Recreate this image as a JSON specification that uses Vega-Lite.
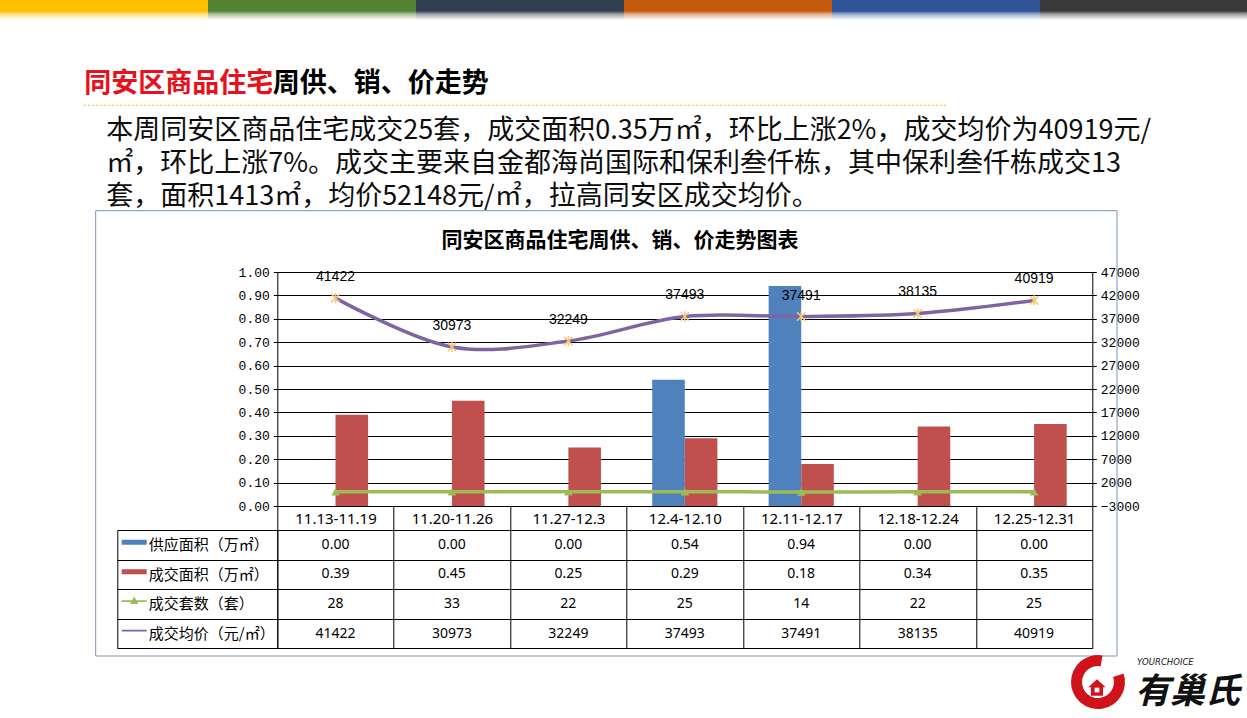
{
  "$schema": "https://vega.github.io/schema/vega-lite/v6.json",
  "width": 815,
  "height": 234,
  "autosize": {"type": "none"},
  "padding": {"left": 277.3, "top": 272, "right": 154.7, "bottom": 212},
  "background": "#ffffff",
  "config": {"view": {"stroke": null}, "font": "Noto Sans CJK SC"},
  "data": {
    "values": [
      {"week": "11.13-11.19", "series": "供应面积（万㎡）", "value": 0},
      {"week": "11.20-11.26", "series": "供应面积（万㎡）", "value": 0},
      {"week": "11.27-12.3", "series": "供应面积（万㎡）", "value": 0},
      {"week": "12.4-12.10", "series": "供应面积（万㎡）", "value": 0.54},
      {"week": "12.11-12.17", "series": "供应面积（万㎡）", "value": 0.94},
      {"week": "12.18-12.24", "series": "供应面积（万㎡）", "value": 0},
      {"week": "12.25-12.31", "series": "供应面积（万㎡）", "value": 0},
      {"week": "11.13-11.19", "series": "成交面积（万㎡）", "value": 0.39},
      {"week": "11.20-11.26", "series": "成交面积（万㎡）", "value": 0.45},
      {"week": "11.27-12.3", "series": "成交面积（万㎡）", "value": 0.25},
      {"week": "12.4-12.10", "series": "成交面积（万㎡）", "value": 0.29},
      {"week": "12.11-12.17", "series": "成交面积（万㎡）", "value": 0.18},
      {"week": "12.18-12.24", "series": "成交面积（万㎡）", "value": 0.34},
      {"week": "12.25-12.31", "series": "成交面积（万㎡）", "value": 0.35},
      {"week": "11.13-11.19", "series": "成交套数（套）", "value": 28},
      {"week": "11.20-11.26", "series": "成交套数（套）", "value": 33},
      {"week": "11.27-12.3", "series": "成交套数（套）", "value": 22},
      {"week": "12.4-12.10", "series": "成交套数（套）", "value": 25},
      {"week": "12.11-12.17", "series": "成交套数（套）", "value": 14},
      {"week": "12.18-12.24", "series": "成交套数（套）", "value": 22},
      {"week": "12.25-12.31", "series": "成交套数（套）", "value": 25},
      {"week": "11.13-11.19", "series": "成交均价（元/㎡）", "value": 41422},
      {"week": "11.20-11.26", "series": "成交均价（元/㎡）", "value": 30973},
      {"week": "11.27-12.3", "series": "成交均价（元/㎡）", "value": 32249},
      {"week": "12.4-12.10", "series": "成交均价（元/㎡）", "value": 37493},
      {"week": "12.11-12.17", "series": "成交均价（元/㎡）", "value": 37491},
      {"week": "12.18-12.24", "series": "成交均价（元/㎡）", "value": 38135},
      {"week": "12.25-12.31", "series": "成交均价（元/㎡）", "value": 40919}
    ]
  },
  "layer": [
    {
      "layer": [
        {"data": {"values": [{}]}, "mark": {"type": "rect", "color": {"gradient": "linear", "x1": 0, "y1": 0, "x2": 0, "y2": 1, "stops": [{"offset": 0, "color": "#ffc000"}, {"offset": 0.55, "color": "#ffc000"}, {"offset": 0.7, "color": "#ffe080"}, {"offset": 1, "color": "#ffffff"}]}},
         "encoding": {"x": {"datum": -2.38172, "type": "quantitative", "scale": {"domain": [0, 7], "nice": false}, "axis": null}, "x2": {"datum": -0.59521}, "y": {"datum": 2.16239, "type": "quantitative", "scale": {"domain": [0, 1], "nice": false}, "axis": null}, "y2": {"datum": 2.07692}}},
        {"data": {"values": [{}]}, "mark": {"type": "rect", "color": {"gradient": "linear", "x1": 0, "y1": 0, "x2": 0, "y2": 1, "stops": [{"offset": 0, "color": "#548235"}, {"offset": 0.55, "color": "#548235"}, {"offset": 0.7, "color": "#aac19a"}, {"offset": 1, "color": "#ffffff"}]}},
         "encoding": {"x": {"datum": -0.59521, "type": "quantitative"}, "x2": {"datum": 1.19129}, "y": {"datum": 2.16239, "type": "quantitative"}, "y2": {"datum": 2.07692}}},
        {"data": {"values": [{}]}, "mark": {"type": "rect", "color": {"gradient": "linear", "x1": 0, "y1": 0, "x2": 0, "y2": 1, "stops": [{"offset": 0, "color": "#333f50"}, {"offset": 0.55, "color": "#333f50"}, {"offset": 0.7, "color": "#999fa8"}, {"offset": 1, "color": "#ffffff"}]}},
         "encoding": {"x": {"datum": 1.19129, "type": "quantitative"}, "x2": {"datum": 2.97779}, "y": {"datum": 2.16239, "type": "quantitative"}, "y2": {"datum": 2.07692}}},
        {"data": {"values": [{}]}, "mark": {"type": "rect", "color": {"gradient": "linear", "x1": 0, "y1": 0, "x2": 0, "y2": 1, "stops": [{"offset": 0, "color": "#c55a11"}, {"offset": 0.55, "color": "#c55a11"}, {"offset": 0.7, "color": "#e2ad88"}, {"offset": 1, "color": "#ffffff"}]}},
         "encoding": {"x": {"datum": 2.97779, "type": "quantitative"}, "x2": {"datum": 4.76429}, "y": {"datum": 2.16239, "type": "quantitative"}, "y2": {"datum": 2.07692}}},
        {"data": {"values": [{}]}, "mark": {"type": "rect", "color": {"gradient": "linear", "x1": 0, "y1": 0, "x2": 0, "y2": 1, "stops": [{"offset": 0, "color": "#2f5597"}, {"offset": 0.55, "color": "#2f5597"}, {"offset": 0.7, "color": "#97aacb"}, {"offset": 1, "color": "#ffffff"}]}},
         "encoding": {"x": {"datum": 4.76429, "type": "quantitative"}, "x2": {"datum": 6.5508}, "y": {"datum": 2.16239, "type": "quantitative"}, "y2": {"datum": 2.07692}}},
        {"data": {"values": [{}]}, "mark": {"type": "rect", "color": {"gradient": "linear", "x1": 0, "y1": 0, "x2": 0, "y2": 1, "stops": [{"offset": 0, "color": "#3a3a3a"}, {"offset": 0.55, "color": "#3a3a3a"}, {"offset": 0.7, "color": "#9d9d9d"}, {"offset": 1, "color": "#ffffff"}]}},
         "encoding": {"x": {"datum": 6.5508, "type": "quantitative"}, "x2": {"datum": 8.32871}, "y": {"datum": 2.16239, "type": "quantitative"}, "y2": {"datum": 2.07692}}},
        {"data": {"values": [{}]}, "mark": {"type": "text", "text": "同安区商品住宅", "align": "left", "baseline": "middle", "fontSize": 27, "fontWeight": "bold", "color": "#e8101a"},
         "encoding": {"x": {"datum": -1.65767, "type": "quantitative"}, "y": {"datum": 1.80342, "type": "quantitative"}}},
        {"data": {"values": [{}]}, "mark": {"type": "text", "text": "周供、销、价走势", "align": "left", "baseline": "middle", "fontSize": 27, "fontWeight": "bold", "color": "#000000"},
         "encoding": {"x": {"datum": -0.03865, "type": "quantitative"}, "y": {"datum": 1.80342, "type": "quantitative"}}},
        {"data": {"values": [{}]}, "mark": {"type": "rule", "color": "#f0c419", "strokeWidth": 1, "strokeDash": [2, 2]},
         "encoding": {"x": {"datum": -1.66025, "type": "quantitative"}, "x2": {"datum": 5.74356}, "y": {"datum": 1.71239, "type": "quantitative"}}},
        {"data": {"values": [{}]}, "mark": {"type": "text", "text": ["本周同安区商品住宅成交25套，成交面积0.35万㎡，环比上涨2%，成交均价为40919元/", "㎡，环比上涨7%。成交主要来自金都海尚国际和保利叁仟栋，其中保利叁仟栋成交13", "套，面积1413㎡，均价52148元/㎡，拉高同安区成交均价。"], "align": "left", "baseline": "top", "fontSize": 27, "lineHeight": 33, "color": "#0d0d0d"},
         "encoding": {"x": {"datum": -1.46957, "type": "quantitative"}, "y": {"datum": 1.65726, "type": "quantitative"}}},
        {"data": {"values": [{}]}, "mark": {"type": "rect", "fill": "transparent", "stroke": "#7d94b0", "strokeWidth": 1},
         "encoding": {"x": {"datum": -1.55975, "type": "quantitative"}, "x2": {"datum": 7.21215}, "y": {"datum": 1.26197, "type": "quantitative"}, "y2": {"datum": -0.64103}}},
        {"data": {"values": [{}]}, "mark": {"type": "text", "text": "同安区商品住宅周供、销、价走势图表", "align": "center", "baseline": "middle", "fontSize": 21, "fontWeight": "bold", "color": "#000000"},
         "encoding": {"x": {"datum": 2.94344, "type": "quantitative"}, "y": {"datum": 1.13248, "type": "quantitative"}}},
        {"data": {"values": [{}]}, "mark": {"type": "arc", "radius": 27, "radius2": 16, "theta": 1.25, "theta2": 6.45, "color": "#d0121b"},
         "encoding": {"x": {"datum": 7.04895, "type": "quantitative"}, "y": {"datum": -0.75214, "type": "quantitative"}}},
        {"data": {"values": [{}]}, "mark": {"type": "point", "shape": "M0,-1L1,-0.1H0.7V0.9H-0.7V-0.1H-1Z", "size": 300, "filled": true, "color": "#d0121b", "opacity": 1},
         "encoding": {"x": {"datum": 7.04036, "type": "quantitative"}, "y": {"datum": -0.77778, "type": "quantitative"}}},
        {"data": {"values": [{}]}, "mark": {"type": "point", "shape": "square", "size": 22, "filled": true, "color": "#ffffff", "opacity": 1},
         "encoding": {"x": {"datum": 7.04036, "type": "quantitative"}, "y": {"datum": -0.78632, "type": "quantitative"}}},
        {"data": {"values": [{}]}, "mark": {"type": "text", "text": "有巢氏", "align": "left", "baseline": "middle", "fontSize": 35, "fontWeight": "bold", "fontStyle": "italic", "color": "#111111"},
         "encoding": {"x": {"datum": 7.36687, "type": "quantitative"}, "y": {"datum": -0.79487, "type": "quantitative"}}},
        {"data": {"values": [{}]}, "mark": {"type": "text", "text": "YOURCHOICE", "align": "left", "baseline": "middle", "fontSize": 8.5, "fontStyle": "italic", "font": "DejaVu Sans", "color": "#111111"},
         "encoding": {"x": {"datum": 7.38405, "type": "quantitative"}, "y": {"datum": -0.66667, "type": "quantitative"}}}
      ]
    },
    {
      "transform": [{"filter": {"field": "series", "oneOf": ["供应面积（万㎡）", "成交面积（万㎡）"]}}],
      "mark": {"type": "bar"},
      "encoding": {
        "x": {"field": "week", "type": "nominal", "sort": null,
              "scale": {"type": "band", "domain": ["11.13-11.19", "11.20-11.26", "11.27-12.3", "12.4-12.10", "12.11-12.17", "12.18-12.24", "12.25-12.31"], "paddingInner": 0, "paddingOuter": 0},
              "axis": {"orient": "bottom", "title": null, "domain": true, "domainColor": "#000000", "ticks": true, "tickColor": "#000000", "tickSize": 24, "tickBand": "extent", "grid": false, "labelAngle": 0, "labelPadding": -19, "labelBaseline": "top", "labelFont": "Noto Sans", "labelFontSize": 15, "labelColor": "#000000", "labelOverlap": false, "labelLimit": 0}},
        "xOffset": {"field": "series", "type": "nominal", "scale": {"domain": ["供应面积（万㎡）", "成交面积（万㎡）"], "paddingInner": 0, "paddingOuter": 0.786}},
        "y": {"field": "value", "type": "quantitative", "scale": {"domain": [0, 1], "nice": false},
              "axis": {"orient": "left", "title": null, "values": [0, 0.1, 0.2, 0.3, 0.4, 0.5, 0.6, 0.7, 0.8, 0.9, 1], "format": ".2f", "domain": true, "domainColor": "#000000", "ticks": true, "tickColor": "#000000", "tickSize": 4, "labelPadding": 4, "labelFont": "Liberation Mono", "labelFontSize": 13, "labelColor": "#000000", "grid": true, "gridColor": "#000000", "gridOpacity": 1, "gridWidth": 1}},
        "color": {"field": "series", "type": "nominal",
                  "scale": {"domain": ["供应面积（万㎡）", "成交面积（万㎡）", "成交套数（套）", "成交均价（元/㎡）"], "range": ["#4f81bd", "#c0504d", "#9bbb59", "#8064a2"]},
                  "legend": {"orient": "none", "legendX": -155.6, "legendY": 257.7, "title": null, "padding": 0, "rowPadding": 4.5, "symbolSize": 625, "symbolStrokeWidth": 0, "labelFontSize": 1, "labelExpr": "''", "labelOffset": 0,
                    "encode": {"symbols": {"update": {
                      "shape": {"signal": "datum.value === '成交套数（套）' ? 'M-1,-0.07H1V0.07H-1Z M0,-0.38L0.34,0.22H-0.34Z M1,-1h0.001v0.001Z M1,1h0.001v-0.001Z' : datum.value === '成交均价（元/㎡）' ? 'M-1,-0.07H1V0.07H-1Z M1,-1h0.001v0.001Z M1,1h0.001v-0.001Z' : 'M-1,-0.2H1V0.2H-1Z M1,-1h0.001v0.001Z M1,1h0.001v-0.001Z'"},
                      "fill": {"signal": "datum.value === '供应面积（万㎡）' ? '#4f81bd' : datum.value === '成交面积（万㎡）' ? '#c0504d' : datum.value === '成交套数（套）' ? '#9bbb59' : '#8064a2'"},
                      "strokeWidth": {"value": 0},
                      "opacity": {"value": 1}
                    }}}}}
      }
    },
    {
      "transform": [{"filter": {"field": "series", "oneOf": ["成交套数（套）", "成交均价（元/㎡）"]}}],
      "encoding": {
        "x": {"field": "week", "type": "nominal", "sort": null,
              "scale": {"type": "band", "domain": ["11.13-11.19", "11.20-11.26", "11.27-12.3", "12.4-12.10", "12.11-12.17", "12.18-12.24", "12.25-12.31"], "paddingInner": 0, "paddingOuter": 0},
              "axis": null},
        "y": {"field": "value", "type": "quantitative", "scale": {"domain": [-3000, 47000], "nice": false, "zero": false},
              "axis": {"orient": "right", "title": null, "values": [-3000, 2000, 7000, 12000, 17000, 22000, 27000, 32000, 37000, 42000, 47000], "format": "d", "domain": true, "domainColor": "#000000", "ticks": true, "tickColor": "#000000", "tickSize": 4, "labelPadding": 4, "labelFont": "Liberation Mono", "labelFontSize": 13, "labelColor": "#000000", "grid": false}}
      },
      "layer": [
        {"mark": {"type": "line", "interpolate": "catmull-rom", "strokeWidth": 3.5},
         "encoding": {"color": {"field": "series", "type": "nominal", "legend": null}}},
        {"transform": [{"filter": {"field": "series", "equal": "成交套数（套）"}}],
         "mark": {"type": "point", "shape": "triangle-up", "filled": true, "size": 75, "color": "#9bbb59", "opacity": 1}},
        {"transform": [{"filter": {"field": "series", "equal": "成交均价（元/㎡）"}}],
         "mark": {"type": "point", "shape": "M-0.8,-0.8L0.8,0.8M0.8,-0.8L-0.8,0.8M0,-1V1", "filled": false, "size": 110, "stroke": "#f3c87a", "strokeWidth": 1.5, "opacity": 1}},
        {"transform": [{"filter": {"field": "series", "equal": "成交均价（元/㎡）"}}],
         "mark": {"type": "text", "dy": -21, "font": "Liberation Sans", "fontSize": 14, "color": "#000000"},
         "encoding": {"text": {"field": "value", "type": "quantitative", "format": "d"}}}
      ]
    },
    {
      "encoding": {
        "x": {"field": "week", "type": "nominal", "sort": null,
              "scale": {"type": "band", "domain": ["11.13-11.19", "11.20-11.26", "11.27-12.3", "12.4-12.10", "12.11-12.17", "12.18-12.24", "12.25-12.31"], "paddingInner": 0, "paddingOuter": 0},
              "axis": {"orient": "bottom", "offset": 24, "title": null, "labels": false, "domain": true, "domainColor": "#000000", "ticks": true, "tickColor": "#000000", "tickSize": 118.3, "tickBand": "extent", "grid": false}},
        "y": {"field": "series", "type": "nominal", "sort": null,
              "scale": {"type": "band", "domain": ["供应面积（万㎡）", "成交面积（万㎡）", "成交套数（套）", "成交均价（元/㎡）"], "range": [258, 376.3], "paddingInner": 0, "paddingOuter": 0},
              "axis": {"orient": "left", "title": null, "domain": true, "domainColor": "#000000", "ticks": true, "tickColor": "#000000", "tickSize": 160, "tickBand": "extent", "grid": true, "gridColor": "#000000", "gridOpacity": 1, "labels": true, "labelAlign": "left", "labelPadding": -31, "labelFont": "Noto Sans CJK SC", "labelFontSize": 15, "labelColor": "#000000", "labelLimit": 0}}
      },
      "layer": [
        {"transform": [{"filter": {"field": "series", "oneOf": ["供应面积（万㎡）", "成交面积（万㎡）"]}}],
         "mark": {"type": "text", "font": "Noto Sans", "fontSize": 14, "color": "#000000"},
         "encoding": {"text": {"field": "value", "type": "quantitative", "format": ".2f"}}}
      ]
    },
    {
      "transform": [{"filter": {"field": "series", "oneOf": ["成交套数（套）", "成交均价（元/㎡）"]}}],
      "mark": {"type": "text", "font": "Noto Sans", "fontSize": 14, "color": "#000000"},
      "encoding": {
        "x": {"field": "week", "type": "nominal", "sort": null,
              "scale": {"type": "band", "domain": ["11.13-11.19", "11.20-11.26", "11.27-12.3", "12.4-12.10", "12.11-12.17", "12.18-12.24", "12.25-12.31"], "paddingInner": 0, "paddingOuter": 0},
              "axis": null},
        "y": {"field": "series", "type": "nominal", "sort": null,
              "scale": {"type": "band", "domain": ["供应面积（万㎡）", "成交面积（万㎡）", "成交套数（套）", "成交均价（元/㎡）"], "range": [258, 376.3], "paddingInner": 0, "paddingOuter": 0},
              "axis": {"orient": "left", "offset": 160, "title": null, "domain": true, "domainColor": "#000000", "ticks": false, "labels": false, "grid": false}},
        "text": {"field": "value", "type": "quantitative", "format": "d"}
      }
    }
  ],
  "resolve": {"scale": {"x": "independent", "y": "independent"}}
}
